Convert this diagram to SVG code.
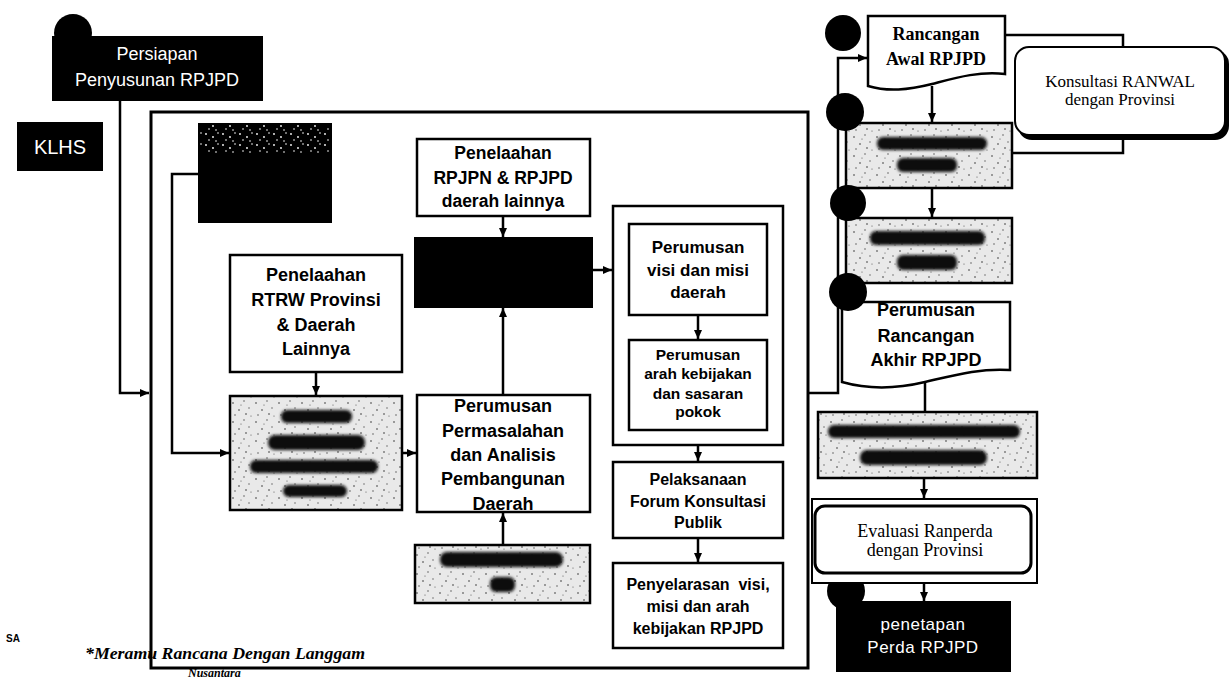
<svg xmlns="http://www.w3.org/2000/svg" width="1231" height="679" viewBox="0 0 1231 679">
<style>
.box{fill:#fff;stroke:#000;stroke-width:2.5}
.blk{fill:#000;stroke:#000;stroke-width:2}
.gray{fill:url(#stipple);stroke:#000;stroke-width:2.5}
.t{font-family:"Liberation Sans",Arial,sans-serif;font-weight:bold;text-anchor:middle;fill:#000}
.w{font-family:"Liberation Sans",Arial,sans-serif;text-anchor:middle;fill:#fff}
.s{font-family:"Liberation Serif","Times New Roman",serif;text-anchor:middle;fill:#000}
.conn path{fill:none;stroke:#000;stroke-width:2.5}
.blob{fill:#111;filter:url(#blur)}
.dot{fill:#000}
</style>
<defs>
<pattern id="stipple" width="23" height="19" patternUnits="userSpaceOnUse">
<rect width="23" height="19" fill="#e9e9e9"/>
<circle cx="3" cy="4" r="0.8" fill="#333"/><circle cx="14" cy="2" r="0.7" fill="#444"/>
<circle cx="9" cy="11" r="0.8" fill="#333"/><circle cx="19" cy="9" r="0.7" fill="#555"/>
<circle cx="5" cy="16" r="0.7" fill="#444"/><circle cx="16" cy="15" r="0.8" fill="#333"/>
<circle cx="21" cy="17" r="0.6" fill="#555"/><circle cx="11" cy="6" r="0.6" fill="#555"/>
</pattern>
<pattern id="speck" width="17" height="11" patternUnits="userSpaceOnUse">
<rect width="17" height="11" fill="#000"/>
<circle cx="2" cy="2" r="0.9" fill="#fff"/><circle cx="9" cy="5" r="0.9" fill="#fff"/>
<circle cx="14" cy="1" r="0.8" fill="#fff"/><circle cx="5" cy="8" r="0.8" fill="#fff"/>
<circle cx="12" cy="9" r="0.8" fill="#fff"/>
</pattern>
<filter id="blur" x="-10%" y="-40%" width="120%" height="180%"><feGaussianBlur stdDeviation="1.5"/></filter>
<marker id="arr" markerWidth="10" markerHeight="10" refX="9" refY="5" orient="auto" markerUnits="userSpaceOnUse">
<path d="M0,1 L9,5 L0,9 Z" fill="#000"/>
</marker>
</defs>

<rect width="1231" height="679" fill="#fff"/>

<!-- big frame -->
<rect id="frame" x="151" y="112" width="657" height="556" fill="none" stroke="#000" stroke-width="3"/>
<rect id="group-visi" x="613" y="206" width="170" height="239" fill="none" stroke="#000" stroke-width="2.5"/>

<g class="conn">
<path d="M120,100 V393 H149" marker-end="url(#arr)"/>
<path d="M198,174 H172 V453 H229" marker-end="url(#arr)"/>
<path d="M316,372 V395" marker-end="url(#arr)"/>
<path d="M402,453 H416" marker-end="url(#arr)"/>
<path d="M503,545 V513" marker-end="url(#arr)"/>
<path d="M503,395 V308" marker-end="url(#arr)"/>
<path d="M503,216 V237" marker-end="url(#arr)"/>
<path d="M592,270 H612" marker-end="url(#arr)"/>
<path d="M698,315 V339" marker-end="url(#arr)"/>
<path d="M698,445 V461" marker-end="url(#arr)"/>
<path d="M698,538 V562" marker-end="url(#arr)"/>
<path d="M808,393 H838 V58 H867" marker-end="url(#arr)"/>
<path d="M932,86 V122" marker-end="url(#arr)"/>
<path d="M1005,35 H1123 V153 H1012"/>
<path d="M932,188 V217" marker-end="url(#arr)"/>
<path d="M925,382 V412"/>
<path d="M924,478 V498" marker-end="url(#arr)"/>
<path d="M924,583 V601" marker-end="url(#arr)"/>
</g>

<circle class="dot" cx="73" cy="33" r="19"/>
<g id="persiapan">
<rect class="blk" x="53" y="37" width="209" height="63"/>
<text class="w" x="157" y="60" font-size="18">Persiapan</text>
<text class="w" x="157" y="86" font-size="18">Penyusunan RPJPD</text>
</g>

<g id="klhs">
<rect class="blk" x="18" y="123" width="84" height="47"/>
<text class="w" x="60" y="154" font-size="20">KLHS</text>
</g>

<g id="data-box">
<rect x="198" y="123" width="134" height="100" fill="#000"/>
<rect x="200" y="125" width="130" height="28" fill="url(#speck)"/>
</g>

<g id="rtrw">
<rect class="box" x="230" y="255" width="172" height="117"/>
<text class="t" x="316" y="281" font-size="18">Penelaahan</text>
<text class="t" x="316" y="306" font-size="18">RTRW Provinsi</text>
<text class="t" x="316" y="331" font-size="18">&amp; Daerah</text>
<text class="t" x="316" y="355" font-size="18">Lainnya</text>
</g>

<g id="analisis">
<rect class="gray" x="230" y="396" width="172" height="114"/>
<rect class="blob" x="281" y="410" width="71" height="13" rx="6"/>
<rect class="blob" x="268" y="435" width="97" height="15" rx="7"/>
<rect class="blob" x="250" y="460" width="128" height="13" rx="6"/>
<rect class="blob" x="283" y="485" width="64" height="12" rx="6"/>
</g>

<g id="rpjpn">
<rect class="box" x="417" y="139" width="173" height="77"/>
<text class="t" x="503" y="159" font-size="17.5">Penelaahan</text>
<text class="t" x="503" y="184" font-size="17.5">RPJPN &amp; RPJPD</text>
<text class="t" x="503" y="207" font-size="17.5">daerah lainnya</text>
</g>

<g id="black-mid">
<rect class="blk" x="415" y="238" width="177" height="69"/>
</g>

<g id="permasalahan">
<rect class="box" x="417" y="395" width="173" height="117"/>
<text class="t" x="503" y="412" font-size="18">Perumusan</text>
<text class="t" x="503" y="437" font-size="18">Permasalahan</text>
<text class="t" x="503" y="461" font-size="18">dan Analisis</text>
<text class="t" x="503" y="485" font-size="18">Pembangunan</text>
<text class="t" x="503" y="510" font-size="18">Daerah</text>
</g>

<g id="pd">
<rect class="gray" x="415" y="545" width="175" height="58" stroke-width="3.5"/>
<rect class="blob" x="440" y="552" width="123" height="15" rx="7"/>
<rect class="blob" x="490" y="577" width="25" height="15" rx="6"/>
</g>

<g id="visi">
<rect class="box" x="629" y="224" width="138" height="91"/>
<text class="t" x="698" y="253" font-size="17">Perumusan</text>
<text class="t" x="698" y="276" font-size="17">visi dan misi</text>
<text class="t" x="698" y="298" font-size="17">daerah</text>
</g>

<g id="arah">
<rect class="box" x="629" y="340" width="138" height="90"/>
<text class="t" x="698" y="360" font-size="15.5">Perumusan</text>
<text class="t" x="698" y="379" font-size="15.5">arah kebijakan</text>
<text class="t" x="698" y="399" font-size="15.5">dan sasaran</text>
<text class="t" x="698" y="417" font-size="15.5">pokok</text>
</g>

<g id="forum">
<rect class="box" x="613" y="462" width="170" height="76"/>
<text class="t" x="698" y="485" font-size="16">Pelaksanaan</text>
<text class="t" x="698" y="507" font-size="16">Forum Konsultasi</text>
<text class="t" x="698" y="528" font-size="16">Publik</text>
</g>

<g id="penyelarasan">
<rect class="box" x="613" y="563" width="170" height="85"/>
<text class="t" x="698" y="590" font-size="16" xml:space="preserve">Penyelarasan  visi,</text>
<text class="t" x="698" y="612" font-size="16">misi dan arah</text>
<text class="t" x="698" y="634" font-size="16">kebijakan RPJPD</text>
</g>

<!-- right column -->
<g id="ranwal">
<path class="box" d="M868,16 H1005 V74 C978,71 955,78 932,84 C908,90 888,92 868,86 Z"/>
<text class="s" x="936" y="40" font-size="18" font-weight="bold">Rancangan</text>
<text class="s" x="936" y="65" font-size="18" font-weight="bold">Awal RPJPD</text>
</g>

<g id="konsultasi">
<rect x="1018" y="50" width="211" height="90" rx="14" fill="#000"/>
<rect x="1015" y="47" width="210" height="88" rx="14" fill="#fff" stroke="#000" stroke-width="2"/>
<text class="s" x="1120" y="87" font-size="17">Konsultasi RANWAL</text>
<text class="s" x="1120" y="105" font-size="17">dengan Provinsi</text>
</g>

<g id="rancangan">
<rect class="gray" x="846" y="123" width="166" height="65"/>
<rect class="blob" x="877" y="137" width="110" height="13" rx="6"/>
<rect class="blob" x="897" y="158" width="60" height="14" rx="6"/>
</g>

<g id="musrenbang">
<rect class="gray" x="846" y="218" width="166" height="65"/>
<rect class="blob" x="870" y="231" width="115" height="14" rx="6"/>
<rect class="blob" x="897" y="255" width="60" height="15" rx="6"/>
</g>

<g id="akhir">
<path class="box" d="M842,302 H1010 V370 C980,368 955,375 925,382 C900,388 870,390 842,382 Z"/>
<text class="t" x="926" y="316" font-size="18">Perumusan</text>
<text class="t" x="926" y="342" font-size="18">Rancangan</text>
<text class="t" x="926" y="366" font-size="18">Akhir RPJPD</text>
</g>

<g id="pembahasan">
<rect class="gray" x="818" y="412" width="219" height="66"/>
<rect class="blob" x="828" y="425" width="192" height="13" rx="6"/>
<rect class="blob" x="860" y="450" width="127" height="15" rx="7"/>
</g>

<circle class="dot" cx="846" cy="591" r="19"/>
<g id="evaluasi">
<rect x="812" y="499" width="225" height="84" fill="#fff" stroke="#000" stroke-width="2"/>
<rect x="815" y="506" width="216" height="67" rx="10" fill="#fff" stroke="#000" stroke-width="3"/>
<text class="s" x="925" y="537" font-size="18">Evaluasi Ranperda</text>
<text class="s" x="925" y="556" font-size="18">dengan Provinsi</text>
</g>

<g id="penetapan">
<rect class="blk" x="837" y="602" width="173" height="69"/>
<text class="w" x="923" y="630" font-size="17" letter-spacing="0.5">penetapan</text>
<text class="w" x="923" y="653" font-size="17" letter-spacing="0.5">Perda RPJPD</text>
</g>

<circle class="dot" cx="843" cy="33" r="18"/>
<circle class="dot" cx="845" cy="112" r="19"/>
<circle class="dot" cx="848" cy="203" r="18"/>
<circle class="dot" cx="848" cy="292" r="19"/>

<!-- footer -->
<text x="6" y="642" font-family="Liberation Sans,Arial,sans-serif" font-weight="bold" font-size="10">SA</text>
<text x="85" y="659" font-family="Liberation Serif,Times New Roman,serif" font-weight="bold" font-style="italic" font-size="17" textLength="280" lengthAdjust="spacingAndGlyphs">*Meramu Rancana Dengan Langgam</text>
<text x="188" y="677" font-family="Liberation Serif,Times New Roman,serif" font-weight="bold" font-style="italic" font-size="12">Nusantara</text>
</svg>
